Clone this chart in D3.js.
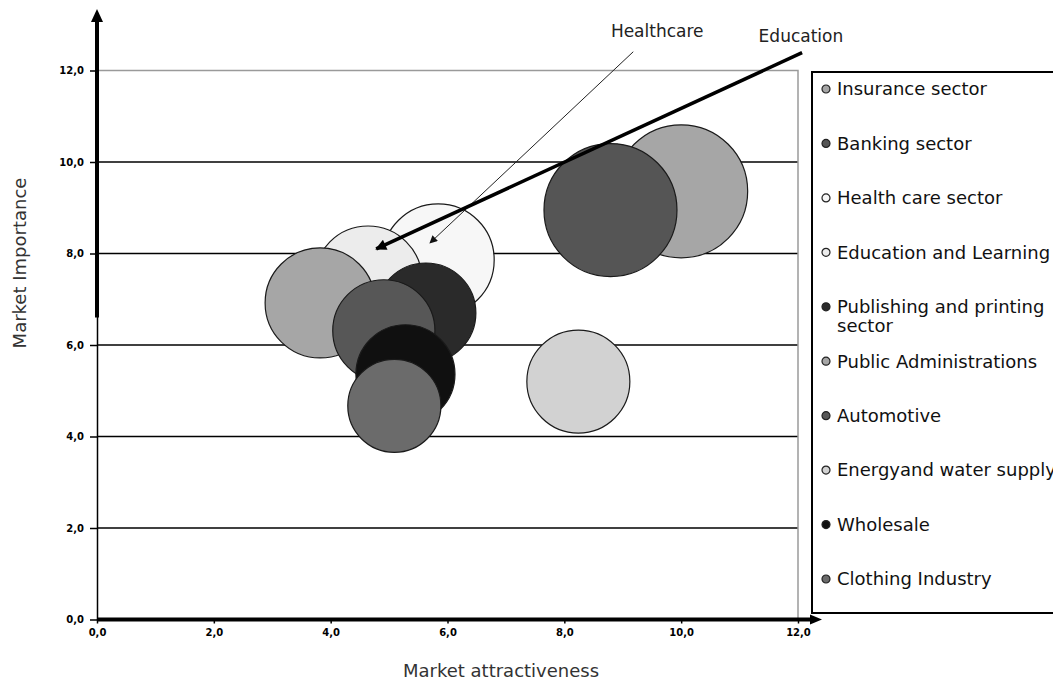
<!DOCTYPE html>
<html>
<head>
<meta charset="utf-8">
<script src="https://cdn.jsdelivr.net/npm/d3@7"></script>
<style>
  body { margin: 0; background: #fff; }
  svg { display: block; font-family: "DejaVu Sans", sans-serif; }
</style>
</head>
<body>
<div id="chart"></div>
<script>
// sectors (legend order = drawing order)
var sectors = ['Insurance sector', 'Banking sector', 'Health care sector', 'Education and Learning',
  'Publishing and printing\nsector', 'Public Administrations', 'Automotive',
  'Energyand water supply', 'Wholesale', 'Clothing Industry'];
var attractiveness = [10.0, 8.79, 5.84, 4.64, 5.63, 3.82, 4.91, 8.24, 5.28, 5.09];
var importance = [9.36, 8.95, 7.86, 7.42, 6.70, 6.92, 6.31, 5.20, 5.36, 4.67];
var bubbleSize = [20, 20, 14.2, 13.2, 11.3, 13.7, 11.8, 12.0, 11.1, 9.8];
var sectorColors = ['#a6a6a6', '#555555', '#f7f7f7', '#ececec', '#2a2a2a',
  '#a6a6a6', '#575757', '#d2d2d2', '#101010', '#6b6b6b'];

var xTicks = [0, 2, 4, 6, 8, 10, 12];
var yTicks = [0, 2, 4, 6, 8, 10, 12];

// call-out arrows
var noteLabels = ['Healthcare', 'Education'];
var noteFrom = [[9.18, 12.41], [12.07, 12.39]];
var noteTo = [[5.70, 8.23], [4.78, 8.10]];
var noteText = [[9.59, 12.86], [12.05, 12.75]];
var noteWeight = [1, 3.5];

var chartW = 1053, chartH = 682;
var plotLeft = 97, plotTop = 70.5, plotRight = 798, plotBottom = 619.5;

var fmt = d3.formatLocale({decimal: ',', thousands: '.', grouping: [3], currency: ['', '']}).format('.1f');

var x = d3.scaleLinear().domain([0, 12]).range([plotLeft, plotRight]);
var y = d3.scaleLinear().domain([0, 12]).range([plotBottom, plotTop]);
var r = d3.scaleSqrt().domain([0, 20]).range([0, 66.5]);

var svg = d3.select('#chart')
  .append('svg')
  .attr('width', chartW)
  .attr('height', chartH);

var defs = svg.append('defs');
defs.append('marker')
  .attr('id', 'head1')
  .attr('viewBox', '0 0 10 10')
  .attr('refX', 9).attr('refY', 5)
  .attr('markerUnits', 'userSpaceOnUse')
  .attr('markerWidth', 11).attr('markerHeight', 8)
  .attr('orient', 'auto')
  .append('path').attr('d', 'M0,0L10,5L0,10z').attr('fill', '#111');
defs.append('marker')
  .attr('id', 'head2')
  .attr('viewBox', '0 0 10 10')
  .attr('refX', 9).attr('refY', 5)
  .attr('markerUnits', 'userSpaceOnUse')
  .attr('markerWidth', 15).attr('markerHeight', 11)
  .attr('orient', 'auto')
  .append('path').attr('d', 'M0,0L10,5L0,10z').attr('fill', '#000');

// gridlines
svg.append('g')
  .attr('class', 'grid')
  .selectAll('line')
  .data(yTicks.filter(function (d) { return d > 0 && d < 12; }))
  .enter()
  .append('line')
  .attr('x1', x(0)).attr('x2', x(12))
  .attr('y1', function (d) { return y(d); })
  .attr('y2', function (d) { return y(d); })
  .attr('stroke', '#000')
  .attr('stroke-width', 1.5);

// plot area border (top / right)
svg.append('path')
  .attr('d', 'M' + x(0) + ',' + y(12) + 'H' + x(12) + 'V' + y(0))
  .attr('fill', 'none')
  .attr('stroke', '#9a9a9a')
  .attr('stroke-width', 1.5);

// axes
svg.append('g')
  .attr('class', 'yAxis')
  .attr('transform', 'translate(' + x(0) + ',0)')
  .call(d3.axisLeft(y).tickValues(yTicks).tickFormat(fmt).tickSize(7).tickSizeOuter(0).tickPadding(6));
svg.append('g')
  .attr('class', 'xAxis')
  .attr('transform', 'translate(0,' + y(0) + ')')
  .call(d3.axisBottom(x).tickValues(xTicks).tickFormat(fmt).tickSize(4).tickSizeOuter(0).tickPadding(5));

svg.selectAll('.yAxis path, .xAxis path').attr('stroke', '#000').attr('stroke-width', 1.5);
svg.selectAll('.yAxis line, .xAxis line').attr('stroke', '#000').attr('stroke-width', 1.5);
svg.selectAll('.yAxis text, .xAxis text')
  .attr('font-size', 10)
  .attr('font-weight', 'bold')
  .attr('font-family', '"DejaVu Sans", sans-serif')
  .attr('fill', '#000');

// thick arrow on y axis
svg.append('line')
  .attr('x1', x(0)).attr('x2', x(0))
  .attr('y1', y(6.6)).attr('y2', 20)
  .attr('stroke', '#000').attr('stroke-width', 4);
svg.append('path')
  .attr('d', 'M' + (x(0) - 6) + ',22L' + x(0) + ',9L' + (x(0) + 6) + ',22z')
  .attr('fill', '#000');

// bubbles
var bubbles = sectors.map(function (s, i) {
  return {name: s, x: attractiveness[i], y: importance[i], size: bubbleSize[i], color: sectorColors[i]};
});

svg.append('g')
  .attr('class', 'bubbles')
  .selectAll('circle')
  .data(bubbles)
  .enter()
  .append('circle')
  .attr('cx', function (d) { return x(d.x); })
  .attr('cy', function (d) { return y(d.y); })
  .attr('r', function (d) { return r(d.size); })
  .attr('fill', function (d) { return d.color; })
  .attr('stroke', '#1a1a1a')
  .attr('stroke-width', 1.2);

// thick arrow on x axis
svg.append('line')
  .attr('x1', x(0)).attr('x2', x(12) + 14)
  .attr('y1', y(0)).attr('y2', y(0))
  .attr('stroke', '#000').attr('stroke-width', 4);
svg.append('path')
  .attr('d', 'M' + (x(12) + 12) + ',' + (y(0) - 5) + 'L' + (x(12) + 24) + ',' + y(0) + 'L' + (x(12) + 12) + ',' + (y(0) + 5) + 'z')
  .attr('fill', '#000');

// call-outs
var notes = noteLabels.map(function (t, i) {
  return {text: t, from: noteFrom[i], to: noteTo[i], at: noteText[i], w: noteWeight[i]};
});
var noteG = svg.append('g').attr('class', 'notes');
noteG.selectAll('line')
  .data(notes)
  .enter()
  .append('line')
  .attr('x1', function (d) { return x(d.from[0]); })
  .attr('y1', function (d) { return y(d.from[1]); })
  .attr('x2', function (d) { return x(d.to[0]); })
  .attr('y2', function (d) { return y(d.to[1]); })
  .attr('stroke', function (d) { return d.w > 2 ? '#000' : '#222'; })
  .attr('stroke-width', function (d) { return d.w; })
  .attr('marker-end', function (d) { return d.w > 2 ? 'url(#head2)' : 'url(#head1)'; });
noteG.selectAll('text')
  .data(notes)
  .enter()
  .append('text')
  .attr('x', function (d) { return x(d.at[0]); })
  .attr('y', function (d) { return y(d.at[1]); })
  .attr('dy', '0.35em')
  .attr('text-anchor', 'middle')
  .attr('font-size', 17)
  .attr('fill', '#222')
  .text(function (d) { return d.text; });

// legend
var legendY = d3.scalePoint().domain(sectors).range([89, 579]);
var legend = svg.append('g').attr('class', 'legend');
legend.append('rect')
  .attr('x', 812).attr('y', 72)
  .attr('width', 300).attr('height', 541)
  .attr('fill', '#fff')
  .attr('stroke', '#000')
  .attr('stroke-width', 2);

var item = legend.selectAll('.item')
  .data(bubbles)
  .enter()
  .append('g')
  .attr('class', 'item')
  .attr('transform', function (d) { return 'translate(826,' + legendY(d.name) + ')'; });
item.append('circle')
  .attr('r', 4)
  .attr('fill', function (d) { return d.color; })
  .attr('stroke', '#222')
  .attr('stroke-width', 1.2);
item.append('text')
  .attr('x', 11)
  .attr('font-size', 18)
  .attr('fill', '#111')
  .selectAll('tspan')
  .data(function (d) { return d.name.split('\n'); })
  .enter()
  .append('tspan')
  .attr('x', 11)
  .attr('dy', function (d, i) { return i === 0 ? '0.35em' : '1.05em'; })
  .text(function (d) { return d; });

// axis titles
svg.append('text')
  .attr('x', 501).attr('y', 677)
  .attr('text-anchor', 'middle')
  .attr('font-size', 18)
  .attr('fill', '#333')
  .text('Market attractiveness');
svg.append('text')
  .attr('transform', 'translate(26,263) rotate(-90)')
  .attr('text-anchor', 'middle')
  .attr('font-size', 18)
  .attr('fill', '#333')
  .text('Market Importance');
</script>
</body>
</html>
